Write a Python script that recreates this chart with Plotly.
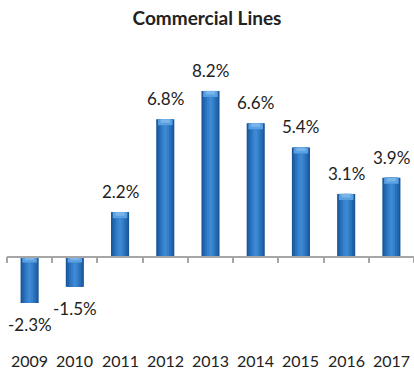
import plotly.graph_objects as go

years = ["2009", "2010", "2011", "2012", "2013", "2014", "2015", "2016", "2017"]
values = [-2.3, -1.5, 2.2, 6.8, 8.2, 6.6, 5.4, 3.1, 3.9]
labels = [f"{v:.1f}%" for v in values]

W, H = 414, 375
ml, mr, mt, mb = 7, 0, 60, 30
ymin, ymax = -4.38, 9.73
xs = list(range(len(years)))

fig = go.Figure()
layers = [(0.40, "#1a5597"), (0.34, "#2163aa"), (0.26, "#2a71bd"), (0.16, "#3480cb"), (0.07, "#3d89d2")]
for w, c in layers:
    fig.add_trace(go.Bar(x=xs, y=values, width=w, marker=dict(color=c, line=dict(width=0)),
                         hoverinfo="skip", showlegend=False))
# lighter cap at the top end of each bar
cap = 0.3
fig.add_trace(go.Bar(x=xs, y=[cap] * len(xs), base=[max(v, 0) - cap for v in values], width=0.32,
                     marker=dict(color="#5a9fe0", line=dict(width=0)), hoverinfo="skip", showlegend=False))
fig.add_trace(go.Bar(x=xs, y=[cap * 0.6] * len(xs), base=[max(v, 0) - cap * 0.6 for v in values], width=0.2,
                     marker=dict(color="#79b4ea", line=dict(width=0)), hoverinfo="skip", showlegend=False))

lab_font = dict(family="Lato", size=17, color="#222222")
yr_font = dict(family="Lato", size=16, color="#222222")
for x, v, t in zip(xs, values, labels):
    fig.add_annotation(x=x, y=v, text=t, showarrow=False,
                       yanchor="bottom" if v >= 0 else "top",
                       yshift=8 if v >= 0 else -9, font=lab_font)
for x, yr in zip(xs, years):
    fig.add_annotation(x=x, y=0, yref="paper", text=yr, showarrow=False,
                       yanchor="top", yshift=-4, font=yr_font)

zero_pos = (0 - ymin) / (ymax - ymin)
fig.update_layout(
    width=W, height=H,
    margin=dict(l=ml, r=mr, t=mt, b=mb),
    paper_bgcolor="white", plot_bgcolor="white",
    barmode="overlay",
    title=dict(text="<b>Commercial Lines</b>", x=0.5, xanchor="center", y=1 - 18 / H, yanchor="middle",
               font=dict(family="Lato", size=19, color="#222222")),
    xaxis=dict(anchor="free", position=zero_pos, range=[-0.5, len(years) - 0.5],
               tickvals=[i - 0.5 for i in range(len(years) + 1)], showticklabels=False,
               ticks="outside", ticklen=6, tickcolor="#a6a6a6", tickwidth=1.5,
               showline=True, linecolor="#a6a6a6", linewidth=1.5, showgrid=False, zeroline=False),
    yaxis=dict(range=[ymin, ymax], visible=False, showgrid=False, zeroline=False),
)
fig.write_html("out.html")
